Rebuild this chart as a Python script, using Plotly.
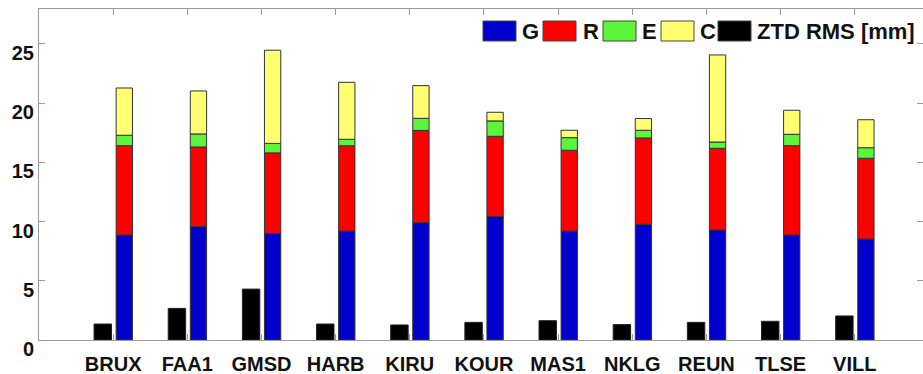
import plotly.graph_objects as go

stations = ["BRUX", "FAA1", "GMSD", "HARB", "KIRU", "KOUR", "MAS1", "NKLG", "REUN", "TLSE", "VILL"]
g_vals = [8.87, 9.57, 9.00, 9.20, 9.90, 10.42, 9.20, 9.77, 9.29, 8.87, 8.53]
r_vals = [7.54, 6.73, 6.80, 7.20, 7.80, 6.78, 6.82, 7.29, 6.90, 7.54, 6.82]
e_vals = [0.88, 1.10, 0.80, 0.55, 1.02, 1.30, 1.07, 0.65, 0.53, 0.96, 0.89]
c_vals = [3.99, 3.63, 7.87, 4.81, 2.76, 0.73, 0.62, 0.99, 7.35, 2.03, 2.36]
ztd_vals = [1.35, 2.67, 4.30, 1.35, 1.27, 1.49, 1.63, 1.30, 1.49, 1.58, 2.03]
y_ticks = [0, 5, 10, 15, 20, 25]

series_names = ["G", "R", "E", "C"]
series_vals = [g_vals, r_vals, e_vals, c_vals]
series_colors = ["#0000CC", "#FF0000", "#5CF53C", "#FFFF70"]

FONT = "Arial, 'Liberation Sans', sans-serif"

fig = go.Figure()

# ZTD RMS bars (left of each station)
fig.add_trace(go.Bar(
    x=stations, y=ztd_vals, name="ZTD RMS [mm]",
    marker=dict(color="#000000", line=dict(color="#222222", width=1)),
    width=0.235, offset=-0.2575, showlegend=False,
))

# stacked G/R/E/C bars (right of each station)
base = [0.0] * len(stations)
for name, vals, col in zip(series_names, series_vals, series_colors):
    fig.add_trace(go.Bar(
        x=stations, y=vals, base=list(base), name=name,
        marker=dict(color=col, line=dict(color="#333333", width=1)),
        width=0.22, offset=0.04, showlegend=False,
    ))
    base = [b + v for b, v in zip(base, vals)]

FIG_W, FIG_H = 923, 374
PL, PT, PR, PB = 39, 9, 923, 340          # plot area in page pixels
W, H = PR - PL, PB - PT

def px_x(p):
    return (p - PL) / W

def px_y(p):
    return (PB - p) / H

legend_items = [
    ("G", series_colors[0], 483, 520),
    ("R", series_colors[1], 543, 581),
    ("E", series_colors[2], 603, 640),
    ("C", series_colors[3], 661, 698),
    ("ZTD RMS [mm]", "#000000", 718, 755),
]
for label, col, sx, tx in legend_items:
    fig.add_shape(type="rect", xref="paper", yref="paper",
                  x0=px_x(sx), x1=px_x(sx + 33), y0=px_y(41), y1=px_y(21),
                  fillcolor=col, line=dict(color="#444444", width=1))
    fig.add_annotation(xref="paper", yref="paper", x=px_x(tx), y=px_y(31),
                       text=label, showarrow=False, xanchor="left", yanchor="middle",
                       font=dict(family=FONT, size=22, color="#111111", weight="bold"))

fig.update_layout(
    barmode="overlay",
    width=FIG_W, height=FIG_H,
    margin=dict(l=PL, r=FIG_W - PR, t=PT, b=FIG_H - PB, pad=0, autoexpand=False),
    plot_bgcolor="white", paper_bgcolor="white",
    font=dict(family=FONT, size=19, color="#111111", weight="bold"),
)
fig.update_xaxes(
    type="category", range=[-1, 10.92], automargin=False,
    showline=True, linecolor="#9a9a9a", linewidth=1, mirror="ticks",
    ticks="inside", ticklen=6, tickcolor="#9a9a9a",
    showgrid=False, zeroline=False,
    tickfont=dict(family=FONT, size=20, color="#111111", weight="bold"),
    ticklabelstandoff=6,
)
fig.update_yaxes(
    range=[0, 27.95], tickvals=y_ticks, automargin=False,
    showline=True, linecolor="#9a9a9a", linewidth=1, mirror="ticks",
    ticks="inside", ticklen=6, tickcolor="#9a9a9a",
    showgrid=False, zeroline=False,
    tickfont=dict(family=FONT, size=20, color="#111111", weight="bold"),
    ticklabelshift=9, ticklabelstandoff=0,
)

fig.write_html(
    "out.html",
    config={"displayModeBar": False},
    post_script="document.body.style.margin='0';document.body.style.overflow='hidden';",
)
